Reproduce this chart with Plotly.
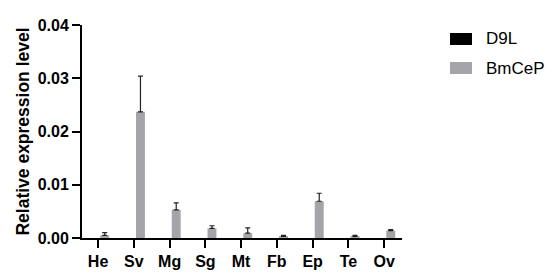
import plotly.graph_objects as go

categories = ["He", "Sv", "Mg", "Sg", "Mt", "Fb", "Ep", "Te", "Ov"]
d9l_values = [0, 0, 0, 0, 0, 0, 0, 0, 0]
bmcep_values = [0.0005, 0.0237, 0.0053, 0.0018, 0.0009, 0.0003, 0.0069, 0.0003, 0.0014]
bmcep_err = [0.0005, 0.0067, 0.0013, 0.0005, 0.0010, 0.0002, 0.0015, 0.0002, 0.0002]
yticks = [0, 0.01, 0.02, 0.03, 0.04]
ytick_labels = ["0.00", "0.01", "0.02", "0.03", "0.04"]
series_names = ["D9L", "BmCeP"]
series_colors = ["#000000", "#a4a4a9"]

font_family = "Liberation Sans, Arial, sans-serif"

fig = go.Figure()
fig.add_trace(go.Bar(
    x=categories, y=d9l_values, name=series_names[0],
    marker=dict(color=series_colors[0], line=dict(width=0)),
    width=0.25, offset=-0.2, showlegend=False,
))
fig.add_trace(go.Bar(
    x=categories, y=bmcep_values, name=series_names[1],
    marker=dict(color=series_colors[1], line=dict(width=0)),
    width=0.25, offset=0.06, showlegend=False,
    error_y=dict(type="data", array=bmcep_err, arrayminus=[0]*len(bmcep_err),
                 symmetric=False, color="#222222", thickness=1.2, width=2.5),
))

# manual legend (wide rectangular swatches like the reference)
shapes = []
annotations = []
W, H = 552, 275
L, R, T, B = 82, 150, 25, 37
pw, ph = W - L - R, H - T - B
def px_to_paper_x(px):
    return (px - L) / pw
def px_to_paper_y(py):
    return (H - B - py) / ph
for i, (name, col) in enumerate(zip(series_names, series_colors)):
    cy = 39 + i * 29
    shapes.append(dict(type="rect", xref="paper", yref="paper",
                       x0=px_to_paper_x(450), x1=px_to_paper_x(472),
                       y0=px_to_paper_y(cy + 6), y1=px_to_paper_y(cy - 6),
                       fillcolor=col, line=dict(width=0)))
    annotations.append(dict(text=name, xref="paper", yref="paper",
                            x=px_to_paper_x(484), y=px_to_paper_y(cy),
                            xanchor="left", yanchor="middle", showarrow=False,
                            font=dict(size=17, family=font_family, color="black")))

fig.update_layout(
    width=W, height=H,
    margin=dict(l=L, r=R, t=T, b=B),
    paper_bgcolor="white", plot_bgcolor="white",
    barmode="overlay",
    font=dict(family=font_family, color="black"),
    showlegend=False,
    shapes=shapes, annotations=annotations,
    xaxis=dict(
        type="category", range=[-0.45, 8.5], automargin=False,
        showline=True, linecolor="black", linewidth=2,
        ticks="outside", ticklen=8, tickwidth=2, tickcolor="black",
        tickfont=dict(size=16, family=font_family, weight="bold"),
        showgrid=False, zeroline=False,
    ),
    yaxis=dict(
        range=[0, 0.04], automargin=False,
        tickvals=yticks, ticktext=ytick_labels,
        showline=True, linecolor="black", linewidth=2,
        ticks="outside", ticklen=8, tickwidth=2, tickcolor="black",
        tickfont=dict(size=16, family=font_family, weight="bold"),
        showgrid=False, zeroline=False,
        title=dict(text="Relative expression level",
                   font=dict(size=17.5, family=font_family, weight="bold"),
                   standoff=4),
    ),
)

fig.write_html("out.html")
